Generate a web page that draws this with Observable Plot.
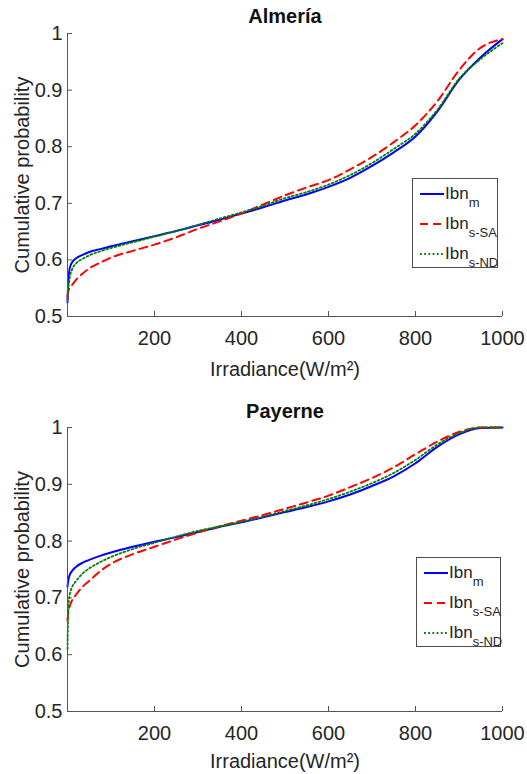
<!DOCTYPE html>
<html>
<head>
<meta charset="utf-8">
<script src="https://cdn.jsdelivr.net/npm/d3@7"></script>
<script src="https://cdn.jsdelivr.net/npm/@observablehq/plot@0.6"></script>
<style>
  body { margin: 0; background: #fff; font-family: "Liberation Sans", Arial, sans-serif; }
  .panel { position: relative; width: 527px; }
  .legend { position: absolute; background: #fff; border: 1px solid #4d4d4d; box-sizing: border-box; }
  .row { position: absolute; left: 0; width: 100%; height: 20px; }
  .row svg { position: absolute; left: 0; top: 0; }
  .row .lab { position: absolute; left: 32px; top: 0; line-height: 20px; font-size: 17px; color: #262626; white-space: nowrap; }
  .row .lab span { font-size: 13px; position: relative; top: 8px; }
</style>
</head>
<body>
<div id="chart"></div>
<script>
// ---------- data ----------
const titles = ["Almería", "Payerne"];
const seriesSubs = ["m", "s-SA", "s-ND"];
const seriesColors = ["#0000ff", "#ff0000", "#008000"];
const seriesDash = [null, "8,5", "1.8,2.4"];
const seriesWidth = [2, 2, 1.8];

const xValues = [0, 2, 5, 10, 20, 35, 50, 75, 100, 150, 200, 250, 300, 350, 400, 450, 500, 550, 600, 650, 700, 750, 800, 850, 900, 950, 1000];

const almeriaM  = [0.525, 0.565, 0.585, 0.595, 0.603, 0.609, 0.614, 0.619, 0.624, 0.633, 0.642, 0.651, 0.661, 0.671, 0.682, 0.693, 0.705, 0.716, 0.729, 0.745, 0.766, 0.790, 0.818, 0.862, 0.918, 0.958, 0.990];
const almeriaSA = [0.535, 0.545, 0.550, 0.555, 0.565, 0.576, 0.585, 0.595, 0.604, 0.616, 0.627, 0.640, 0.655, 0.668, 0.682, 0.698, 0.714, 0.728, 0.741, 0.760, 0.782, 0.808, 0.838, 0.880, 0.935, 0.975, 0.990];
const almeriaND = [0.530, 0.550, 0.568, 0.582, 0.594, 0.602, 0.608, 0.615, 0.621, 0.631, 0.641, 0.651, 0.662, 0.673, 0.684, 0.696, 0.709, 0.720, 0.733, 0.750, 0.771, 0.796, 0.823, 0.865, 0.920, 0.955, 0.983];

const payerneM  = [0.720, 0.732, 0.740, 0.747, 0.755, 0.762, 0.767, 0.774, 0.780, 0.790, 0.799, 0.807, 0.816, 0.825, 0.833, 0.842, 0.851, 0.860, 0.870, 0.882, 0.897, 0.914, 0.937, 0.966, 0.988, 0.999, 1.000];
const payerneSA = [0.660, 0.675, 0.685, 0.695, 0.706, 0.720, 0.730, 0.747, 0.760, 0.777, 0.790, 0.803, 0.815, 0.826, 0.836, 0.846, 0.857, 0.868, 0.880, 0.895, 0.911, 0.930, 0.953, 0.975, 0.992, 1.000, 1.000];
const payerneND = [0.610, 0.685, 0.705, 0.718, 0.730, 0.743, 0.752, 0.763, 0.772, 0.786, 0.797, 0.808, 0.818, 0.826, 0.834, 0.843, 0.853, 0.863, 0.874, 0.887, 0.902, 0.920, 0.943, 0.970, 0.990, 1.000, 1.000];

const xTicks = [200, 400, 600, 800, 1000];
const yTicks = [0.5, 0.6, 0.7, 0.8, 0.9, 1];
const xLabel = "Irradiance(W/m²)";
const yLabel = "Cumulative probability";

// ---------- layout ----------
const panels = [
  {title: titles[0], series: [almeriaM, almeriaSA, almeriaND], marginTop: 33, marginBottom: 71, titleDy: -17, xlabDy: 53, legend: {left: 412, top: 178, width: 86, height: 90}},
  {title: titles[1], series: [payerneM, payerneSA, payerneND], marginTop: 40, marginBottom: 63, titleDy: -16, xlabDy: 50, legend: {left: 416, top: 170, width: 85, height: 90}}
];

const axisColor = "#555";
const textColor = "#262626";
const root = document.getElementById("chart");

panels.forEach(pn => {
  const data = [];
  pn.series.forEach((arr, s) => arr.forEach((p, i) => data.push({x: xValues[i], p, s})));
  const lineMarks = pn.series.map((arr, s) =>
    Plot.line(data.filter(d => d.s === s), {
      x: "x", y: "p", curve: "monotone-x",
      stroke: seriesColors[s], strokeWidth: seriesWidth[s],
      strokeDasharray: seriesDash[s] || undefined
    })
  );
  const plot = Plot.plot({
    width: 527, height: 387,
    marginLeft: 67, marginRight: 25, marginTop: pn.marginTop, marginBottom: pn.marginBottom,
    style: {fontFamily: "'Liberation Sans', Arial, sans-serif", color: textColor, background: "#fff", overflow: "visible"},
    x: {domain: [0, 1000]},
    y: {domain: [0.5, 1]},
    marks: [
      ...lineMarks,
      Plot.ruleX([0], {stroke: axisColor}),
      Plot.ruleY([0.5], {stroke: axisColor}),
      Plot.axisX(xTicks, {tickSize: -5, tickPadding: 19, fontSize: 20, stroke: axisColor, fill: textColor, label: null,
        tickFormat: d => String(d)}),
      Plot.axisY(yTicks, {tickSize: -5, tickPadding: 10, fontSize: 20, stroke: axisColor, fill: textColor, label: null,
        tickFormat: d => String(+d.toFixed(1))}),
      Plot.text([pn.title], {text: d => d, frameAnchor: "top", lineAnchor: "middle", dy: pn.titleDy, fontSize: 20, fontWeight: "bold", fill: "#111"}),
      Plot.text([xLabel], {text: d => d, frameAnchor: "bottom", lineAnchor: "middle", dy: pn.xlabDy, fontSize: 20, fill: textColor}),
      Plot.text([yLabel], {text: d => d, frameAnchor: "left", textAnchor: "middle", lineAnchor: "middle", dx: -45, rotate: -90, fontSize: 20, fill: textColor})
    ]
  });
  const wrap = document.createElement("div");
  wrap.className = "panel";
  wrap.appendChild(plot);
  // legend
  const lg = document.createElement("div");
  lg.className = "legend";
  Object.assign(lg.style, {left: pn.legend.left + "px", top: pn.legend.top + "px", width: pn.legend.width + "px", height: pn.legend.height + "px"});
  const rowY = [15, 45, 75];
  seriesSubs.forEach((sub, s) => {
    const row = document.createElement("div");
    row.className = "row";
    row.style.top = (rowY[s] - 10) + "px";
    const dash = seriesDash[s] ? ` stroke-dasharray="${seriesDash[s]}"` : "";
    row.innerHTML = `<svg width="32" height="20"><line x1="7" x2="31" y1="10" y2="10" stroke="${seriesColors[s]}" stroke-width="${seriesWidth[s]}"${dash}/></svg>` +
      `<div class="lab">Ibn<span>${sub}</span></div>`;
    lg.appendChild(row);
  });
  wrap.appendChild(lg);
  root.appendChild(wrap);
});
</script>
</body>
</html>
